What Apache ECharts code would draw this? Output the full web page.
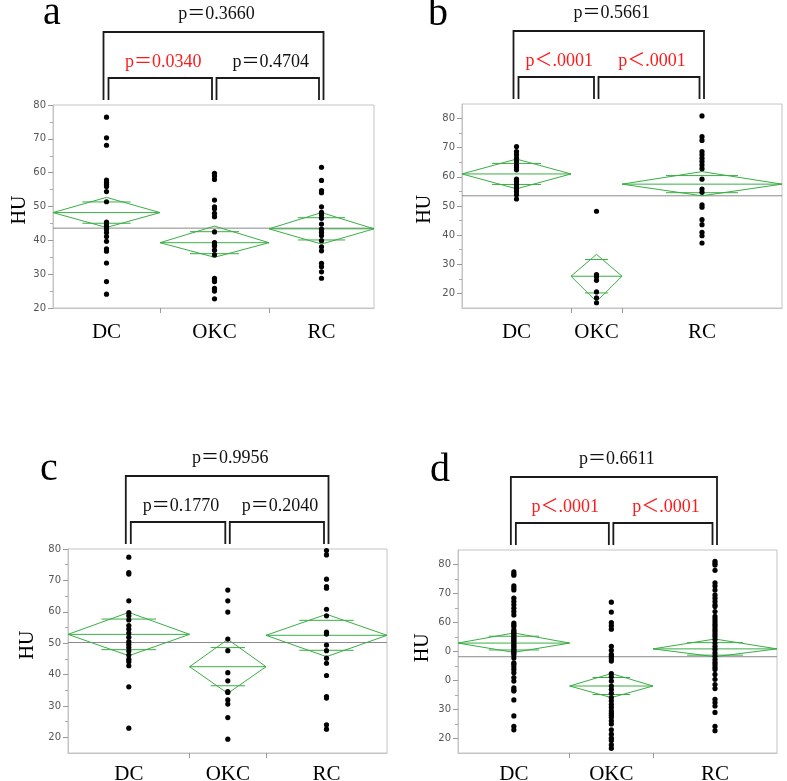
<!DOCTYPE html>
<html><head><meta charset="utf-8">
<script src="https://cdn.jsdelivr.net/npm/echarts@6/dist/echarts.min.js"></script>
<style>html,body{margin:0;padding:0;background:#fff}#c{width:787px;height:781px}</style>
</head><body><div id="c"></div>
<script>
// ---------------- data ----------------
const groupNames = ['DC', 'OKC', 'RC'];
const yTickValues = [20, 30, 40, 50, 60, 70, 80];
const yTickLabelsStd = ['20', '30', '40', '50', '60', '70', '80'];
const yTickLabelsD = ['20', '30', '0', '0', '60', '70', '80'];
const yMinorValues = [25, 35, 45, 55, 65, 75];

// panel a
const aDC = [76.4, 70.3, 68.1, 57.8, 57.2, 56.6, 55.9, 54.4, 51.4, 45.4, 44.7, 44.0, 43.3, 42.3, 41.1, 39.7, 37.5, 36.8, 33.3, 27.8, 24.1];
const aOKC = [59.8, 59.0, 58.0, 51.9, 49.9, 49.3, 48.0, 47.0, 42.5, 39.3, 38.6, 38.3, 37.1, 35.7, 28.8, 28.3, 27.8, 25.8, 25.0, 22.7];
const aRC = [61.6, 57.7, 54.7, 54.1, 49.9, 48.3, 47.5, 46.5, 44.8, 43.3, 42.4, 41.4, 39.9, 38.1, 36.9, 33.2, 32.2, 30.7, 28.8];
const aWeights = [107, 109, 105];
const aMean = [48.2, 39.3, 43.4], aLow = [43.8, 35.0, 38.9], aHigh = [52.7, 44.2, 48.2];
const aGrand = 43.6;
const aP = ['p＝0.3660', 'p＝0.0340', 'p＝0.4704'];
const aSig = [false, true, false];

// panel b
const bDC = [70.4, 68.7, 67.6, 66.4, 65.3, 64.1, 63.4, 62.4, 59.2, 58.4, 57.5, 56.7, 55.9, 55.0, 53.9, 52.4];
const bOKC = [48.2, 26.5, 25.7, 24.5, 20.5, 18.5, 16.8];
const bRC = [80.9, 73.8, 72.5, 68.7, 67.6, 66.4, 65.3, 64.1, 62.8, 59.2, 55.8, 54.7, 50.4, 49.6, 45.3, 43.6, 41.0, 39.8, 37.3];
const bWeights = [109, 51, 160];
const bMean = [61.0, 25.9, 57.5], bLow = [55.9, 17.2, 53.5], bHigh = [66.1, 33.4, 61.8];
const bGrand = 53.5;
const bP = ['p＝0.5661', 'p＜.0001', 'p＜.0001'];
const bSig = [false, true, true];

// panel c
const cDC = [77.4, 72.5, 72.0, 63.5, 59.7, 58.7, 57.4, 55.6, 54.5, 53.2, 51.9, 50.5, 49.6, 48.6, 47.5, 46.2, 44.9, 44.1, 42.8, 36.1, 22.9];
const cOKC = [66.9, 63.5, 59.9, 51.3, 47.6, 40.6, 38.0, 34.6, 34.3, 31.9, 30.6, 26.3, 19.4];
const cRC = [79.5, 78.1, 70.4, 68.0, 67.5, 60.8, 58.7, 53.5, 52.9, 49.4, 47.6, 45.2, 43.6, 39.7, 33.0, 32.5, 24.0, 22.6];
const cWeights = [121.6, 76.4, 121];
const cMean = [52.8, 42.5, 52.5], cLow = [46.0, 34.0, 45.7], cHigh = [59.8, 51.2, 59.2];
const cGrand = 50.2;
const cP = ['p＝0.9956', 'p＝0.1770', 'p＝0.2040'];
const cSig = [false, false, false];

// panel d
const dDC = [77.5, 76.8, 76.3, 72.6, 71.9, 71.2, 68.4, 67.2, 66.1, 64.9, 63.8, 62.6, 59.8, 59.2, 58.6, 57.5, 56.9, 56.4, 55.8, 55.2, 54.6, 54.0, 53.5, 52.9, 52.3, 51.8, 51.2, 50.6, 50.1, 49.5, 48.9, 47.8, 46.1, 45.6, 44.7, 43.8, 42.7, 41.0, 39.8, 37.5, 36.7, 36.4, 33.3, 27.8, 24.2, 23.0];
const dOKC = [67.0, 63.6, 60.0, 58.9, 57.7, 51.8, 50.4, 49.0, 48.4, 47.5, 46.7, 42.4, 41.3, 39.8, 38.1, 36.9, 35.6, 34.1, 33.0, 31.8, 30.7, 29.5, 28.7, 28.0, 27.3, 26.1, 25.0, 23.0, 21.5, 20.1, 19.3, 17.8, 16.6];
const dRC = [81.1, 80.4, 79.8, 78.0, 73.7, 72.6, 71.2, 69.5, 68.4, 67.2, 66.1, 65.5, 63.8, 62.1, 61.2, 60.3, 59.4, 58.6, 57.7, 56.9, 56.0, 55.2, 54.1, 52.9, 51.8, 50.7, 49.5, 48.4, 47.2, 46.3, 45.5, 44.6, 43.8, 42.1, 40.4, 38.6, 37.2, 33.5, 32.4, 31.2, 29.0, 24.2, 22.7];
const dWeights = [111.7, 83.3, 124];
const dMean = [52.9, 38.1, 50.9], dLow = [49.7, 34.1, 48.2], dHigh = [56.4, 42.4, 54.3];
const dGrand = 48.2;
const dP = ['p＝0.6611', 'p＜.0001', 'p＜.0001'];
const dSig = [false, true, true];

// ---------------- assembly ----------------
const panels = [
  {letter: 'a', groups: [aDC, aOKC, aRC], weights: aWeights, mean: aMean, low: aLow, high: aHigh, grand: aGrand, p: aP, sig: aSig, tickLabels: yTickLabelsStd},
  {letter: 'b', groups: [bDC, bOKC, bRC], weights: bWeights, mean: bMean, low: bLow, high: bHigh, grand: bGrand, p: bP, sig: bSig, tickLabels: yTickLabelsStd},
  {letter: 'c', groups: [cDC, cOKC, cRC], weights: cWeights, mean: cMean, low: cLow, high: cHigh, grand: cGrand, p: cP, sig: cSig, tickLabels: yTickLabelsStd},
  {letter: 'd', groups: [dDC, dOKC, dRC], weights: dWeights, mean: dMean, low: dLow, high: dHigh, grand: dGrand, p: dP, sig: dSig, tickLabels: yTickLabelsD}
];

const layout = [
  {lx: 43, ly: 13, grid: {left: 53, top: 105, width: 321, height: 203}, yMin: 20, yMax: 80, hu: [20, 210], labelMargin: 14},
  {lx: 428, ly: 14.5, grid: {left: 462, top: 104, width: 320, height: 204}, yMin: 15, yMax: 85, hu: [424.7, 209.3], labelMargin: 14},
  {lx: 40, ly: 469, grid: {left: 68, top: 549, width: 319, height: 204}, yMin: 15, yMax: 80, hu: [28, 645], labelMargin: 11},
  {lx: 430, ly: 470, grid: {left: 458, top: 550, width: 319, height: 203}, yMin: 15, yMax: 85, hu: [422.7, 647.8], labelMargin: 11}
];

const SERIF = "'Liberation Serif', 'Times New Roman', 'Noto Sans CJK JP', serif";
const GREEN = '#3aae45';
const FRAME = '#c4c4c4';

function bounds(weights) {
  let acc = 0;
  return weights.map(w => { const b = [acc, acc + w]; acc += w; return b; });
}

const grids = [], xAxes = [], yAxes = [], series = [];
panels.forEach((p, i) => {
  const L = layout[i];
  const bd = bounds(p.weights);
  const total = bd[bd.length - 1][1];
  const centers = bd.map(b => (b[0] + b[1]) / 2);
  grids.push(Object.assign({show: true, borderColor: FRAME, borderWidth: 1, containLabel: false, outerBoundsMode: 'none'}, L.grid));
  xAxes.push({
    type: 'value', gridIndex: i, min: 0, max: total, position: 'bottom',
    splitLine: {show: false},
    axisLine: {show: true, lineStyle: {color: FRAME}},
    axisTick: {show: true, length: 5, lineStyle: {color: '#999'}, customValues: [bd[0][1], bd[1][1]]},
    axisLabel: {
      show: true, customValues: centers, margin: L.labelMargin,
      fontFamily: SERIF, fontSize: 21, color: '#000',
      formatter: v => { const k = centers.findIndex(c => Math.abs(c - v) < 1e-6); return k >= 0 ? groupNames[k] : ''; }
    }
  });
  const majors = yTickValues.filter(v => v >= L.yMin && v <= L.yMax);
  yAxes.push({
    type: 'value', gridIndex: i, min: L.yMin, max: L.yMax, position: 'left', offset: 0,
    splitLine: {show: false},
    axisLine: {show: true, lineStyle: {color: FRAME}},
    axisTick: {show: true, length: 5, lineStyle: {color: '#999'}, customValues: majors},
    axisLabel: {
      show: true, customValues: majors, margin: 7, fontFamily: "'DejaVu Sans', sans-serif", fontSize: 10, color: '#555',
      formatter: v => { const k = yTickValues.indexOf(v); return k >= 0 ? p.tickLabels[k] : ''; }
    }
  });
  yAxes.push({
    type: 'value', gridIndex: i, min: L.yMin, max: L.yMax, position: 'left', offset: 0,
    splitLine: {show: false}, axisLine: {show: false},
    axisTick: {show: true, length: 3, lineStyle: {color: '#aaa'}, customValues: yMinorValues.filter(v => v > L.yMin && v < L.yMax)},
    axisLabel: {show: false}
  });
  const yIdx = i * 2;
  // grand mean
  series.push({
    type: 'line', xAxisIndex: i, yAxisIndex: yIdx, symbol: 'none', silent: true, z: 1,
    lineStyle: {color: '#8a8a8a', width: 1},
    data: [[0, p.grand], [total, p.grand]]
  });
  // diamonds
  series.push({
    type: 'custom', xAxisIndex: i, yAxisIndex: yIdx, z: 2, silent: true,
    encode: {x: [0, 1], y: [2, 3, 4]},
    data: bd.map((b, k) => [b[0], b[1], p.mean[k], p.low[k], p.high[k]]),
    renderItem: (params, api) => {
      const x0 = api.value(0), x1 = api.value(1), m = api.value(2), lo = api.value(3), hi = api.value(4);
      const xc = (x0 + x1) / 2;
      const pL = api.coord([x0, m]), pR = api.coord([x1, m]);
      const pT = api.coord([xc, hi]), pB = api.coord([xc, lo]);
      const h = (hi - lo) / 2 * Math.SQRT1_2;
      const yU = api.coord([xc, m + h])[1], yD = api.coord([xc, m - h])[1];
      const ow = (pR[0] - pL[0]) / 2 * 0.45;
      const st = {stroke: GREEN, lineWidth: 1, fill: null};
      return {type: 'group', children: [
        {type: 'polygon', shape: {points: [pL, pT, pR, pB]}, style: st},
        {type: 'line', shape: {x1: pL[0], y1: pL[1], x2: pR[0], y2: pR[1]}, style: st},
        {type: 'line', shape: {x1: pT[0] - ow, y1: yU, x2: pT[0] + ow, y2: yU}, style: st},
        {type: 'line', shape: {x1: pT[0] - ow, y1: yD, x2: pT[0] + ow, y2: yD}, style: st}
      ]};
    }
  });
  // dots
  p.groups.forEach((vals, k) => {
    series.push({
      type: 'scatter', xAxisIndex: i, yAxisIndex: yIdx, z: 3, silent: true,
      symbol: 'circle', symbolSize: 5.2, itemStyle: {color: '#000', opacity: 1},
      data: vals.map(v => [centers[k], v])
    });
  });
});

const chart = echarts.init(document.getElementById('c'), null, {renderer: 'canvas'});
chart.setOption({
  animation: false, backgroundColor: '#fff',
  grid: grids, xAxis: xAxes, yAxis: yAxes, series: series
});

// annotations: brackets, p-values, letters, axis titles
const graphics = [];
panels.forEach((p, i) => {
  const L = layout[i];
  const bd = bounds(p.weights);
  const cx = bd.map(b => chart.convertToPixel({gridIndex: i}, [(b[0] + b[1]) / 2, L.yMin])[0]);
  const top = L.grid.top;
  const outerTop = top - 73, innerTop = top - 27, bottom = top - 5;
  const line = {stroke: '#1a1a1a', lineWidth: 1.8, fill: null};
  const oL = cx[0] - 3, oR = cx[2] + 2;
  const iLL = cx[0] + 2, iLR = cx[1] - 2.5, iRL = cx[1] + 2, iRR = cx[2] - 2.5;
  graphics.push({type: 'polyline', shape: {points: [[oL, bottom], [oL, outerTop], [oR, outerTop], [oR, bottom]]}, style: line});
  graphics.push({type: 'polyline', shape: {points: [[iLL, bottom], [iLL, innerTop], [iLR, innerTop], [iLR, bottom]]}, style: line});
  graphics.push({type: 'polyline', shape: {points: [[iRL, bottom], [iRL, innerTop], [iRR, innerTop], [iRR, bottom]]}, style: line});
  const txt = (s, x, y, red) => ({type: 'text', x: x, y: y, style: {text: s, font: '18px ' + SERIF, fill: red ? '#ff1a1a' : '#111', align: 'center', verticalAlign: 'middle'}});
  graphics.push(txt(p.p[0], (oL + oR) / 2 + 3, outerTop - 18, p.sig[0]));
  graphics.push(txt(p.p[1], (iLL + iLR) / 2 + 3, innerTop - 16, p.sig[1]));
  graphics.push(txt(p.p[2], (iRL + iRR) / 2 + 3, innerTop - 16, p.sig[2]));
  graphics.push({type: 'text', x: L.lx, y: L.ly, style: {text: p.letter, font: '40px ' + SERIF, fill: '#000', align: 'left', verticalAlign: 'middle'}});
  graphics.push({type: 'text', x: L.hu[0], y: L.hu[1], rotation: Math.PI / 2, style: {text: 'HU', font: '20px ' + SERIF, fill: '#000', align: 'center', verticalAlign: 'middle'}});
});
chart.setOption({graphic: graphics});
</script>
</body></html>
